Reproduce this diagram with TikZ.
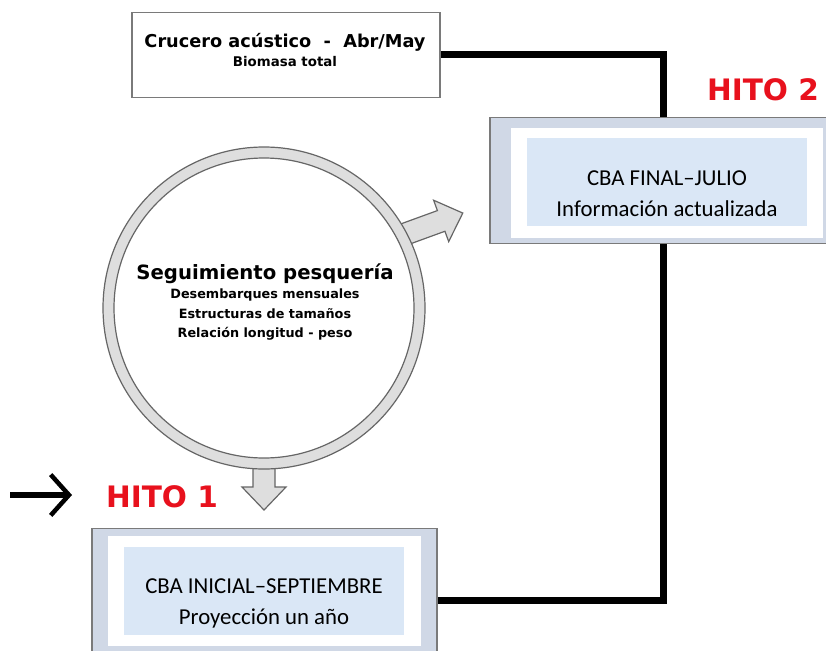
\documentclass[tikz,border=0pt]{standalone}
\usepackage{fontspec}
\setmainfont{Carlito}
\newfontfamily\verdfont{DejaVu Sans}
\usetikzlibrary{arrows.meta}

\definecolor{hitored}{HTML}{E8111D}
\definecolor{ringgray}{HTML}{DEDEDE}
\definecolor{ringline}{HTML}{666666}
\definecolor{frameblue}{HTML}{D0D8E6}
\definecolor{framegray}{HTML}{7A7A7A}
\definecolor{cbablue}{HTML}{DAE7F6}

% one pixel of the sketch
\newcommand{\pix}{0.025cm}
% block arrow: start, angle, length
\newcommand{\blockarrow}[3]{%
  \draw[blockarr, shift={#1}, rotate=#2] (0,-11) -- (#3-23,-11) -- (#3-23,-22)
    -- (#3,0) -- (#3-23,22) -- (#3-23,11) -- (0,11) -- cycle;}

\tikzset{
  linkline/.style={line width=7*\pix, black},
  blockarr/.style={draw=ringline, fill=ringgray, line width=1.2*\pix, line join=miter},
  topbox/.style={draw=framegray, fill=white, line width=1.5*\pix, inner sep=0pt,
    minimum width=308*\pix, minimum height=85*\pix},
  hitoframe/.style={draw=framegray, fill=frameblue, line width=1.5*\pix, inner sep=0pt,
    minimum width=#1*\pix, minimum height=126*\pix},
  hitowhite/.style={fill=white, inner sep=0pt, minimum width=#1*\pix, minimum height=110*\pix},
  cbabox/.style={fill=cbablue, inner sep=0pt, minimum width=280*\pix, minimum height=88*\pix},
  cbatext/.style={align=center, font=\fontsize{16.2}{22}\selectfont},
  hito/.style={text=hitored, font=\verdfont\bfseries\fontsize{21}{24}\selectfont},
  ring/.style={circle, draw=ringline, line width=1.2*\pix, inner sep=0pt},
}

\begin{document}
\begin{tikzpicture}[x=\pix, y=-\pix]
	\clip (0,0) rectangle (826,650);
	\fill[white] (0,0) rectangle (826,650);

	% boxes
	\node[topbox] (crucero) at (286,55) {};
	\node[align=center, font=\verdfont\bfseries] (crucerotxt) at (285,50)
	{{\fontsize{12.6}{15}\selectfont Crucero acústico~~-~~Abr/May}\\[1pt]
	 {\fontsize{9.5}{11}\selectfont Biomasa total}};

	\node[hitoframe=354] (finalout) at (667,180.5) {};
	\node[hitowhite=312] (finalwhite) at (667,183) {};
	\node[cbabox] (finalbg) at (667,182) {};
	\node[cbatext] (final) at (667,194) {CBA FINAL--JULIO\\Información actualizada};

	\node[hitoframe=345] (inicialout) at (264.5,591.5) {};
	\node[hitowhite=313] (inicialwhite) at (264.5,590.5) {};
	\node[cbabox] (inicialbg) at (264,590.5) {};
	\node[cbatext] (inicial) at (264,603) {CBA INICIAL--SEPTIEMBRE\\Proyección un año};

	% black links
	\draw[linkline] (crucero.east) -| ([xshift=-4*\pix]finalout.north);
	\draw[linkline] ([xshift=-4*\pix]finalout.south) |- ([yshift=-9*\pix]inicialout.east);

	% arrows out of the circle
	\blockarrow{(397,237)}{20}{70}
	\blockarrow{(264,455)}{-90}{55}

	% circle
	\node[ring, fill=ringgray, minimum size=322*\pix] (ringout) at (264,308) {};
	\node[ring, fill=white, minimum size=300*\pix] (ringin) at (ringout) {};
	\node[align=center, font=\verdfont\bfseries\fontsize{9.1}{13.6}\selectfont] (seg) at (265,302)
	{{\fontsize{14}{16}\selectfont Seguimiento pesquería}\\[0pt]
	 Desembarques mensuales\\
	 Estructuras de tamaños\\
	 Relación longitud - peso};

	% hitos
	\node[hito] (hito2) at (763,90) {HITO 2};
	\node[hito] (hito1) at (162,497) {HITO 1};

	\coordinate (arrs) at (10,495);
	\coordinate (arre) at (72,495);
	\draw[line width=6*\pix, -{Straight Barb[length=13pt, width=29pt, line width=4.5*\pix]}] (arrs) -- (arre);
\end{tikzpicture}
\end{document}
